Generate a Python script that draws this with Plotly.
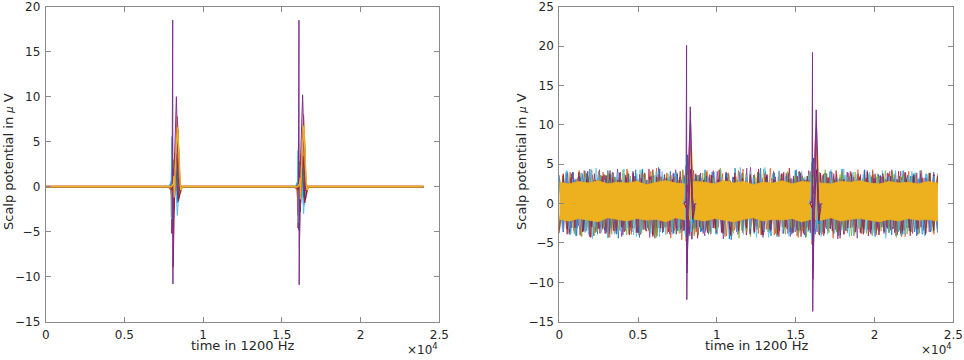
import numpy as np
import plotly.graph_objects as go

# ---------------- data ----------------
t_end = 24000
xtick_vals = [0, 5000, 10000, 15000, 20000, 25000]
xtick_text = ["0", "0.5", "1", "1.5", "2", "2.5"]
ytick_left = [-15, -10, -5, 0, 5, 10, 15, 20]
ytick_right = [-15, -10, -5, 0, 5, 10, 15, 20, 25]

event_offsets = [-100, 30, 66, 80, 130, 190, 250, 300, 360, 420, 500, 600]
left_event_starts = [8000, 16020]
right_event_starts = [8010, 16000]

C_BLUE, C_ORANGE, C_YELLOW, C_PURPLE = "#0072BD", "#D95319", "#EDB120", "#7E2F8E"
C_GREEN, C_LBLUE, C_DRED = "#77AC30", "#4DBEEE", "#A2142F"

# left panel: channel waveforms around the two events
L_blue_a_1 = [0, 0.8, 5.6, -4.6, 1.2, 2.4, 3.2, 2.2, 0.6, -1.8, -0.6, 0]
L_blue_a_2 = [0, 0.6, 5.0, -4.8, 1.0, 2.2, 3.4, 2.4, 0.4, -2.0, -0.6, 0]
L_orange_a_1 = [0, 0.4, 1.8, -2.4, 1.6, 3.4, 6.2, 7.8, 5.8, 1.2, -0.8, 0]
L_orange_a_2 = [0, 0.4, 1.6, -2.2, 1.8, 3.6, 6.4, 8.0, 5.6, 1.0, -0.8, 0]
L_purple_a_1 = [0, 0.2, 18.5, -10.8, 1.0, 3.5, 7.5, 10.0, 6.0, 1.0, -0.5, 0]
L_purple_a_2 = [0, 0.2, 18.5, -10.9, 1.2, 3.8, 7.6, 10.2, 6.2, 1.2, -0.5, 0]
L_green_a_1 = [0, 0.5, 3.0, -2.0, 0.8, 2.0, 3.6, 2.6, 1.0, -0.8, -0.3, 0]
L_green_a_2 = [0, 0.4, 2.8, -2.2, 0.8, 2.2, 3.4, 2.8, 1.2, -0.6, -0.3, 0]
L_lblue_a_1 = [0, 0.6, 4.2, -3.6, 0.4, 1.4, 2.2, 1.2, -1.2, -3.2, -1.0, 0]
L_lblue_a_2 = [0, 0.6, 4.0, -4.0, 0.2, 1.6, 2.4, 1.0, -1.4, -3.0, -0.8, 0]
L_dred_a_1 = [0, -0.4, 2.0, -8.9, -2.4, 0.8, 2.6, 3.6, 2.4, -1.6, -0.8, 0]
L_dred_a_2 = [0, -0.4, 1.8, -6.7, -2.2, 0.6, 2.4, 3.4, 2.2, -1.8, -0.8, 0]
L_blue_b_1 = [0, 0.3, 2.0, -2.6, -0.6, 1.0, 1.8, 1.2, -0.4, -1.2, -0.3, 0]
L_blue_b_2 = [0, 0.3, 2.2, -2.8, -0.8, 1.2, 2.0, 1.0, -0.6, -1.4, -0.3, 0]
L_orange_b_1 = [0, -0.3, -1.0, -3.4, -1.8, 0.6, 2.4, 3.8, 2.2, -0.5, -0.2, 0]
L_orange_b_2 = [0, -0.3, -1.2, -3.2, -1.6, 0.8, 2.6, 3.6, 2.0, -0.6, -0.2, 0]
L_purple_b_1 = [0, 0.1, 1.4, -1.6, 0.6, 2.2, 4.6, 6.4, 4.0, 0.6, -0.4, 0]
L_purple_b_2 = [0, 0.1, 1.2, -1.8, 0.8, 2.4, 4.8, 6.2, 3.8, 0.4, -0.4, 0]
L_green_b_1 = [0, -0.2, -0.8, -1.4, -0.6, 0.4, 1.2, 2.0, 0.8, -0.4, -0.2, 0]
L_green_b_2 = [0, -0.2, -0.6, -1.6, -0.4, 0.6, 1.4, 1.8, 0.6, -0.6, -0.2, 0]
L_dred_b_1 = [0, 0.2, 0.6, -5.2, -1.6, -0.4, 0.8, 1.6, 0.6, -1.0, -0.4, 0]
L_dred_b_2 = [0, 0.2, 0.4, -4.6, -1.4, -0.2, 1.0, 1.4, 0.4, -1.2, -0.4, 0]
L_yellow_b_1 = [0, 0.2, 0.8, -0.6, 1.4, 2.8, 4.0, 5.0, 3.2, 0.8, -0.3, 0]
L_yellow_b_2 = [0, 0.2, 0.6, -0.8, 1.6, 3.0, 4.2, 4.8, 3.0, 0.6, -0.3, 0]
L_yellow_a_1 = [0, 0.3, 1.2, -1.2, 2.2, 3.8, 5.2, 6.6, 4.4, 1.5, -0.4, 0]
L_yellow_a_2 = [0, 0.3, 1.0, -1.4, 2.4, 4.0, 5.4, 6.8, 4.2, 1.2, -0.4, 0]
# per-channel latency (samples) of the left-panel waveforms
left_latency = [70, -50, 90, 30, -70, 110, -30, 60, 40, -60, 15, 0, 80]

# right panel: event waveforms
R_blue_1 = [0, 1.0, 6.2, -5.8, 1.2, 3.0, 4.2, 3.2, 1.0, -2.4, -1.0, 0]
R_blue_2 = [0, 1.0, 5.8, -6.2, 1.0, 3.2, 4.4, 3.0, 0.8, -2.6, -1.0, 0]
R_orange_1 = [0, 0.4, 2.5, -4.8, 0.5, 3.5, 7.0, 8.4, 6.0, 2.0, -1.2, 0]
R_orange_2 = [0, 0.4, 2.2, -5.2, 0.6, 3.8, 7.4, 8.8, 6.2, 1.6, -1.2, 0]
R_green_1 = [0, 0.5, 3.6, -2.8, 0.6, 2.4, 4.2, 3.0, 1.2, -1.2, -0.5, 0]
R_green_2 = [0, 0.5, 3.4, -3.0, 0.8, 2.6, 4.0, 3.2, 1.0, -1.4, -0.5, 0]
R_lblue_1 = [0, 0.8, 4.8, -4.2, 0.4, 1.8, 2.8, 1.6, -1.2, -3.6, -1.2, 0]
R_lblue_2 = [0, 0.8, 5.2, -4.6, 0.2, 1.6, 3.0, 1.4, -1.4, -3.4, -1.2, 0]
R_dred_1 = [0, -0.6, 2.4, -7.6, -2.8, 1.0, 3.2, 4.4, 2.6, -2.0, -1.0, 0]
R_dred_2 = [0, -0.6, 2.2, -8.2, -3.0, 0.8, 3.4, 4.2, 2.4, -2.2, -1.0, 0]
R_yellow_1 = [0, 0.3, 1.4, -1.6, 2.6, 4.4, 6.0, 7.4, 5.0, 1.8, -0.6, 0]
R_yellow_2 = [0, 0.3, 1.2, -1.8, 2.8, 4.6, 6.2, 7.2, 4.8, 1.6, -0.6, 0]
R_purple_b_1 = [0, 0.2, 1.8, -8.8, -3.0, 2.6, 6.8, 10.6, 5.4, 0.8, -0.6, 0]
R_purple_b_2 = [0, 0.2, 1.6, -9.6, -3.4, 2.4, 7.0, 10.2, 5.2, 0.6, -0.6, 0]
R_purple_a_1 = [0, 0.4, 20.1, -12.2, -1.5, 4.5, 9.5, 12.3, 7.5, 1.5, -1.0, 0]
R_purple_a_2 = [0, 0.4, 19.2, -13.7, -1.8, 4.2, 9.0, 11.9, 7.2, 1.2, -1.0, 0]
right_latency = [50, -40, 80, -60, 25, 70, 15, 0]

# right panel: background activity, upper / lower excursions per channel
noise_blue_up = [3.4, 4.1, 3.0, 3.8, 4.4, 3.2, 3.6, 4.0, 2.9, 3.7, 4.3, 3.1, 3.5, 4.6, 3.3, 3.9, 3.0, 4.2, 3.6, 3.2, 4.0, 3.4, 3.8, 4.5, 3.1, 3.7, 3.3, 4.1, 3.6, 3.0, 3.9, 4.3, 3.2, 3.5, 4.0, 3.8, 3.1, 4.4, 3.4, 3.7, 3.0, 4.1, 3.6, 3.3, 3.9, 4.2, 3.5, 3.1, 3.8, 4.0]
noise_blue_lo = [-3.2, -3.8, -2.8, -3.5, -4.1, -3.0, -3.4, -3.9, -2.7, -3.6, -4.3, -3.1, -3.3, -3.7, -2.9, -3.5, -4.0, -3.2, -3.6, -2.8, -3.9, -3.4, -4.6, -3.0, -3.5, -3.8, -3.1, -3.3, -4.2, -2.9, -3.7, -3.4, -3.0, -3.9, -3.6, -3.2, -4.1, -3.5, -2.8, -3.8, -3.3, -3.7, -3.0, -4.0, -3.4, -3.1, -3.6, -3.9, -3.2, -3.5]
noise_orange_up = [3.8, 3.1, 4.2, 3.5, 2.9, 4.0, 3.6, 3.3, 4.4, 3.0, 3.7, 4.1, 3.2, 3.9, 3.4, 4.3, 3.1, 3.6, 4.0, 3.3, 3.8, 2.9, 4.2, 3.5, 3.7, 3.2, 4.5, 3.4, 3.9, 3.0, 3.6, 4.1, 3.3, 3.8, 3.1, 4.0, 3.5, 4.3, 3.2, 3.7, 3.4, 4.1, 3.0, 3.9, 3.6, 4.2, 3.3, 3.8]
noise_orange_lo = [-3.5, -2.9, -3.9, -3.3, -4.2, -3.0, -3.6, -3.8, -2.8, -3.4, -4.0, -3.1, -3.7, -3.3, -4.4, -3.0, -3.5, -3.9, -3.2, -3.6, -2.9, -4.1, -3.4, -3.7, -3.1, -3.8, -3.3, -4.0, -3.0, -3.6, -4.3, -3.2, -3.5, -3.9, -2.8, -3.7, -3.4, -4.1, -3.1, -3.6, -3.3, -3.9, -3.0, -4.2, -3.5, -3.2, -3.8, -3.4]
noise_purple_up = [3.3, 3.9, 3.1, 4.2, 3.6, 3.0, 3.8, 4.4, 3.2, 3.5, 4.0, 3.4, 3.7, 3.1, 4.3, 3.6, 3.0, 3.9, 3.3, 4.1, 3.5, 3.2, 3.8, 4.6, 3.1, 3.7, 3.4, 4.0, 3.0, 3.6, 4.2, 3.3, 3.9, 3.5, 3.1, 4.1, 3.7, 3.2, 3.8, 3.4, 4.3, 3.0, 3.6, 3.9, 3.3, 3.7]
noise_purple_lo = [-3.6, -3.1, -4.0, -3.4, -2.9, -3.8, -3.3, -4.2, -3.0, -3.7, -3.5, -4.4, -3.2, -3.6, -3.0, -3.9, -3.4, -4.1, -3.1, -3.7, -3.3, -3.9, -2.9, -3.6, -4.3, -3.2, -3.5, -3.8, -3.0, -4.0, -3.4, -3.7, -3.1, -4.5, -3.3, -3.6, -2.9, -3.9, -3.5, -3.2, -4.1, -3.4, -3.8, -3.0, -3.6, -3.3]
noise_green_up = [3.5, 3.0, 3.9, 3.3, 4.1, 3.6, 3.1, 3.8, 3.4, 4.3, 3.0, 3.7, 3.2, 4.0, 3.5, 3.1, 3.9, 3.3, 4.2, 3.6, 3.0, 3.8, 3.4, 4.4, 3.2, 3.7, 3.1, 4.0, 3.5, 3.3, 3.9, 3.0, 4.1, 3.6, 3.2, 3.8, 3.4, 4.2, 3.1, 3.7, 3.5, 3.0, 3.9, 3.4]
noise_green_lo = [-3.3, -3.8, -3.0, -3.6, -4.1, -3.2, -3.5, -2.9, -3.9, -3.4, -3.1, -4.3, -3.6, -3.0, -3.7, -3.3, -4.0, -3.2, -3.5, -2.8, -3.8, -3.4, -4.2, -3.1, -3.6, -3.3, -3.9, -3.0, -3.5, -4.4, -3.2, -3.7, -3.4, -3.0, -3.8, -3.3, -4.1, -3.5, -3.1, -3.6, -3.9, -3.2, -3.4, -3.7]
noise_lblue_up = [3.6, 4.2, 3.2, 3.9, 3.4, 4.5, 3.1, 3.7, 4.0, 3.3, 3.8, 4.3, 3.0, 3.6, 4.1, 3.4, 3.9, 3.2, 4.4, 3.5, 3.0, 3.8, 4.2, 3.3, 3.7, 3.1, 4.0, 3.6, 4.6, 3.2, 3.9, 3.4, 3.0, 4.1, 3.7, 3.3, 3.8, 4.3, 3.1, 3.6, 4.0, 3.4, 3.9, 3.2, 4.2, 3.5, 3.0, 3.8, 4.1, 3.3, 3.7, 3.5]
noise_lblue_lo = [-3.4, -4.0, -3.1, -3.7, -4.5, -3.2, -3.6, -3.9, -3.0, -3.5, -4.2, -3.3, -3.8, -3.1, -4.0, -3.4, -3.7, -4.7, -3.2, -3.6, -3.0, -3.9, -3.5, -4.1, -3.3, -3.7, -3.1, -3.8, -4.3, -3.4, -3.0, -3.6, -3.9, -3.2, -4.0, -3.5, -3.1, -3.8, -3.4, -4.2, -3.0, -3.7, -3.3, -3.9, -3.6, -3.2, -4.1, -3.5, -3.0, -3.8, -3.4, -3.6]
noise_dred_up = [3.2, 3.8, 3.5, 4.1, 3.0, 3.7, 3.3, 4.0, 3.6, 3.1, 3.9, 4.3, 3.4, 3.0, 3.8, 3.5, 4.2, 3.2, 3.7, 3.1, 4.0, 3.4, 3.9, 3.3, 4.4, 3.6, 3.0, 3.8, 3.2, 4.1, 3.5, 3.1, 3.7, 4.0, 3.3, 3.9, 3.0, 4.2, 3.6, 3.4, 3.8, 3.1, 4.0, 3.5, 3.2, 3.7, 3.4]
noise_dred_lo = [-3.7, -3.2, -4.0, -3.5, -3.0, -3.8, -4.3, -3.3, -3.6, -3.1, -3.9, -3.4, -4.1, -3.0, -3.7, -3.2, -3.8, -4.4, -3.5, -3.1, -3.6, -3.9, -3.3, -4.0, -3.0, -3.7, -3.4, -4.2, -3.2, -3.6, -3.8, -3.1, -4.0, -3.5, -3.3, -3.9, -3.0, -3.7, -4.1, -3.4, -3.6, -3.2, -3.8, -3.1, -3.5, -4.0, -3.3]
noise_blue2_up = [3.1, 3.7, 4.0, 3.3, 3.9, 2.9, 3.6, 4.2, 3.4, 3.0, 3.8, 3.5, 4.4, 3.2, 3.7, 3.0, 4.1, 3.6, 3.3, 3.9, 3.1, 4.3, 3.5, 3.0, 3.8, 3.4, 4.0, 3.2, 3.6, 4.5, 3.3, 3.9, 3.1, 3.7, 4.2, 3.4, 3.0, 3.8, 3.5, 4.1, 3.2, 3.6, 3.9, 3.0, 4.3, 3.4, 3.7, 3.1, 4.0, 3.5, 3.3, 3.8, 4.2, 3.2, 3.6]
noise_blue2_lo = [-3.0, -3.6, -4.1, -3.3, -2.8, -3.9, -3.4, -3.1, -4.4, -3.5, -3.0, -3.7, -3.2, -4.0, -3.6, -2.9, -3.8, -3.3, -4.2, -3.1, -3.5, -3.9, -3.0, -3.7, -4.5, -3.2, -3.4, -3.8, -2.9, -3.6, -4.1, -3.3, -3.0, -3.9, -3.5, -4.3, -3.1, -3.7, -3.2, -3.8, -4.0, -3.4, -2.9, -3.6, -3.3, -4.2, -3.0, -3.7, -3.5, -3.9, -3.1, -4.1, -3.4, -3.6, -3.2]
noise_orange2_up = [3.5, 4.0, 3.2, 3.7, 4.3, 3.0, 3.6, 3.9, 3.3, 4.1, 3.1, 3.8, 3.4, 4.5, 3.2, 3.6, 3.0, 4.0, 3.7, 3.3, 4.2, 3.5, 3.1, 3.9, 3.4, 4.4, 3.0, 3.6, 3.8, 3.2, 4.1, 3.5, 3.3, 3.9, 3.0, 4.2, 3.6, 3.4, 3.7, 3.1, 4.0, 3.8, 3.2, 4.3, 3.5, 3.0, 3.7, 3.3, 4.1, 3.6, 3.2, 3.9, 3.4]
noise_orange2_lo = [-3.8, -3.2, -3.5, -4.1, -3.0, -3.7, -3.3, -4.3, -3.1, -3.6, -3.9, -2.9, -3.5, -4.0, -3.2, -3.8, -3.4, -4.6, -3.0, -3.6, -3.3, -3.9, -3.1, -4.2, -3.5, -3.0, -3.7, -3.4, -4.0, -3.2, -3.8, -2.9, -3.6, -4.1, -3.3, -3.5, -3.9, -3.0, -4.4, -3.4, -3.7, -3.1, -3.8, -3.2, -4.0, -3.5, -3.0, -3.6, -4.2, -3.3, -3.7, -3.1, -3.9]
noise_purple2_up = [3.6, 3.2, 4.0, 3.4, 3.8, 3.0, 4.3, 3.5, 3.1, 3.9, 3.3, 4.1, 3.7, 3.0, 3.6, 4.4, 3.2, 3.8, 3.4, 4.0, 3.1, 3.7, 3.5, 4.2, 3.0, 3.9, 3.3, 3.6, 4.5, 3.2, 3.8, 3.4, 4.1, 3.0, 3.7, 3.5, 3.9, 3.1, 4.3, 3.6, 3.3, 3.8, 3.0, 4.0, 3.4, 3.7, 4.2, 3.2, 3.5, 3.9, 3.1, 4.1, 3.6, 3.3, 3.8, 3.0, 3.7]
noise_purple2_lo = [-3.3, -3.9, -3.0, -3.6, -4.2, -3.4, -3.1, -3.8, -3.5, -4.0, -2.9, -3.7, -3.3, -4.3, -3.1, -3.6, -3.9, -3.2, -3.5, -4.1, -3.0, -3.8, -3.4, -3.7, -4.5, -3.2, -3.6, -3.0, -3.9, -3.3, -4.0, -3.5, -3.1, -3.8, -4.2, -3.4, -3.0, -3.7, -3.6, -4.1, -3.2, -3.5, -3.9, -3.1, -4.4, -3.3, -3.7, -3.0, -3.8, -3.4, -4.0, -3.2, -3.6, -3.9, -3.1, -3.5, -3.7]
noise_green2_up = [3.2, 3.8, 3.4, 4.1, 3.0, 3.6, 3.9, 3.3, 4.3, 3.5, 3.1, 3.7, 4.0, 3.2, 3.8, 3.4, 4.2, 3.0, 3.6, 3.9, 3.3, 4.5, 3.5, 3.1, 3.7, 3.4, 4.0, 3.2, 3.8, 3.0, 4.1, 3.6, 3.3, 3.9, 3.5, 4.3, 3.1, 3.7, 3.4, 4.0, 3.2, 3.6, 3.8, 3.0, 4.2, 3.5, 3.3, 3.9, 3.1, 3.7, 3.4]
noise_green2_lo = [-3.5, -3.1, -3.8, -4.2, -3.3, -3.6, -3.0, -3.9, -3.4, -4.0, -3.2, -3.7, -3.5, -4.3, -3.0, -3.6, -3.8, -3.3, -4.1, -3.1, -3.7, -3.4, -3.9, -3.0, -4.4, -3.5, -3.2, -3.8, -3.6, -4.0, -3.3, -3.1, -3.7, -4.2, -3.4, -3.9, -3.0, -3.6, -3.5, -4.1, -3.2, -3.8, -3.4, -3.0, -3.7, -4.3, -3.3, -3.6, -3.9, -3.1, -3.5]
noise_lblue2_up = [3.4, 4.0, 3.1, 3.7, 3.3, 4.2, 3.6, 3.0, 3.9, 3.5, 4.4, 3.2, 3.8, 3.4, 3.1, 4.1, 3.6, 3.3, 3.9, 3.0, 4.3, 3.7, 3.2, 3.5, 4.0, 3.4, 3.8, 3.1, 4.6, 3.6, 3.3, 3.9, 3.0, 3.7, 4.2, 3.5, 3.2, 3.8, 3.4, 4.1, 3.0, 3.6, 3.9, 3.3, 4.4, 3.5, 3.1, 3.7, 4.0, 3.2, 3.8, 3.4, 4.2, 3.0, 3.6, 3.9, 3.3, 3.7, 3.5]
noise_lblue2_lo = [-3.6, -3.2, -4.1, -3.4, -3.9, -3.0, -3.7, -4.4, -3.3, -3.5, -3.1, -4.0, -3.8, -3.2, -3.6, -4.2, -3.0, -3.9, -3.4, -3.7, -4.6, -3.1, -3.5, -3.8, -3.3, -4.0, -3.0, -3.6, -3.9, -3.2, -4.3, -3.4, -3.7, -3.1, -3.8, -4.1, -3.5, -3.0, -3.6, -3.3, -4.2, -3.9, -3.2, -3.7, -3.4, -4.0, -3.1, -3.5, -3.8, -3.3, -4.4, -3.0, -3.6, -3.9, -3.2, -3.7, -4.1, -3.4, -3.5]
noise_dred2_up = [3.7, 3.3, 4.0, 3.1, 3.8, 3.5, 4.2, 3.0, 3.6, 3.9, 3.2, 4.4, 3.4, 3.7, 3.1, 4.1, 3.5, 3.8, 3.0, 3.6, 4.3, 3.3, 3.9, 3.2, 3.7, 4.0, 3.4, 3.1, 3.8, 4.5, 3.5, 3.0, 3.6, 3.9, 3.3, 4.2, 3.1, 3.7, 3.4, 4.0, 3.2, 3.8, 3.5, 4.1, 3.0, 3.6, 3.3, 3.9, 3.5]
noise_dred2_lo = [-3.4, -3.9, -3.1, -3.6, -4.3, -3.2, -3.8, -3.5, -3.0, -4.0, -3.7, -3.3, -4.2, -3.1, -3.6, -3.9, -3.4, -4.5, -3.0, -3.7, -3.2, -3.8, -4.1, -3.5, -3.1, -3.6, -4.0, -3.3, -3.9, -3.0, -3.7, -4.2, -3.4, -3.2, -3.8, -3.5, -4.4, -3.1, -3.6, -3.9, -3.3, -4.0, -3.0, -3.7, -3.5, -4.1, -3.2, -3.8, -3.4]
core_up = [2.7, 2.5, 2.8, 2.6, 2.9, 2.5, 2.7, 2.6, 2.8, 2.4, 2.7, 2.9, 2.6, 2.5, 2.8, 2.7, 2.5, 2.9, 2.6, 2.8, 2.4, 2.7, 2.6, 2.9, 2.5, 2.8, 2.7, 2.6, 2.5, 2.8, 2.7, 2.9, 2.6, 2.5, 2.8, 2.6, 2.7, 2.5, 2.8, 2.6]
core_lo = [-2.0, -2.2, -1.9, -2.1, -2.3, -1.8, -2.0, -2.2, -1.9, -2.1, -2.0, -2.3, -1.8, -2.1, -2.0, -2.2, -1.9, -2.1, -2.3, -2.0, -1.8, -2.2, -2.0, -2.1, -1.9, -2.3, -2.0, -2.1, -1.8, -2.2, -2.0, -1.9, -2.1, -2.3, -2.0, -2.2, -1.9, -2.1, -2.0, -2.2]

# ---------------- figure ----------------
W, H = 964, 360
def px(x):
    return x / W
def py(y):
    return 1 - y / H

fig = go.Figure()

def event_x(starts, lat):
    xs = [0]
    for s in starts:
        xs += [s + lat + o for o in event_offsets]
    xs.append(t_end)
    return xs

def event_y(v1, v2):
    return [0] + list(v1) + list(v2) + [0]

left_channels = [
    (C_BLUE, L_blue_b_1, L_blue_b_2), (C_ORANGE, L_orange_b_1, L_orange_b_2),
    (C_PURPLE, L_purple_b_1, L_purple_b_2), (C_GREEN, L_green_b_1, L_green_b_2),
    (C_DRED, L_dred_b_1, L_dred_b_2), (C_YELLOW, L_yellow_b_1, L_yellow_b_2),
    (C_BLUE, L_blue_a_1, L_blue_a_2), (C_ORANGE, L_orange_a_1, L_orange_a_2),
    (C_GREEN, L_green_a_1, L_green_a_2), (C_LBLUE, L_lblue_a_1, L_lblue_a_2),
    (C_DRED, L_dred_a_1, L_dred_a_2), (C_PURPLE, L_purple_a_1, L_purple_a_2),
    (C_YELLOW, L_yellow_a_1, L_yellow_a_2),
]
for i, (c, v1, v2) in enumerate(left_channels):
    w = 1.0
    if i == 1:
        w = 2.6
    if i == len(left_channels) - 1:
        w = 1.4
    fig.add_trace(go.Scatter(x=event_x(left_event_starts, left_latency[i]),
                             y=event_y(v1, v2), mode="lines",
                             line=dict(color=c, width=w),
                             xaxis="x", yaxis="y", showlegend=False, hoverinfo="skip"))

# right panel background activity (zig-zag between excursions)
noise_sets = [
    (C_BLUE, noise_blue_up, noise_blue_lo), (C_ORANGE, noise_orange_up, noise_orange_lo),
    (C_PURPLE, noise_purple_up, noise_purple_lo), (C_GREEN, noise_green_up, noise_green_lo),
    (C_LBLUE, noise_lblue_up, noise_lblue_lo), (C_DRED, noise_dred_up, noise_dred_lo),
    (C_BLUE, noise_blue2_up, noise_blue2_lo), (C_ORANGE, noise_orange2_up, noise_orange2_lo),
    (C_PURPLE, noise_purple2_up, noise_purple2_lo), (C_GREEN, noise_green2_up, noise_green2_lo),
    (C_LBLUE, noise_lblue2_up, noise_lblue2_lo), (C_DRED, noise_dred2_up, noise_dred2_lo),
]
for k, (c, up, lo) in enumerate(noise_sets):
    ys = []
    for a, b in zip(up, lo):
        ys += [a, b] if k % 2 == 0 else [b, a]
    xs = np.linspace(0, t_end, len(ys))
    fig.add_trace(go.Scatter(x=xs, y=ys, mode="lines", line=dict(color=c, width=0.7),
                             xaxis="x2", yaxis="y2", showlegend=False, hoverinfo="skip"))

cx = list(np.linspace(0, t_end, len(core_up)))
fig.add_trace(go.Scatter(x=cx + cx[::-1], y=core_up + core_lo[::-1], mode="lines",
                         fill="toself", fillcolor=C_YELLOW, line=dict(color=C_YELLOW, width=0.8),
                         xaxis="x2", yaxis="y2", showlegend=False, hoverinfo="skip"))

right_channels = [
    (C_BLUE, R_blue_1, R_blue_2), (C_ORANGE, R_orange_1, R_orange_2),
    (C_GREEN, R_green_1, R_green_2), (C_LBLUE, R_lblue_1, R_lblue_2),
    (C_DRED, R_dred_1, R_dred_2), (C_YELLOW, R_yellow_1, R_yellow_2),
    (C_PURPLE, R_purple_b_1, R_purple_b_2), (C_PURPLE, R_purple_a_1, R_purple_a_2),
]
for i, (c, v1, v2) in enumerate(right_channels):
    xs, ys = [], []
    for s, v in zip(right_event_starts, (v1, v2)):
        xs += [s + right_latency[i] + o for o in event_offsets] + [None]
        ys += list(v) + [None]
    fig.add_trace(go.Scatter(x=xs, y=ys, mode="lines", line=dict(color=c, width=1),
                             xaxis="x2", yaxis="y2", showlegend=False, hoverinfo="skip"))

FONT = "DejaVu Sans"
TXT = "#262626"
AX = "#8a8a8a"
common_x = dict(range=[0, 25000], tickvals=xtick_vals, ticktext=xtick_text,
                ticks="inside", ticklen=5, tickcolor=AX, showline=True, linecolor=AX,
                linewidth=1, mirror="ticks", showgrid=False, zeroline=False,
                automargin=False, ticklabeloverflow="allow", ticklabelstandoff=2,
                tickfont=dict(family=FONT, size=12, color=TXT))
common_y = dict(ticks="inside", ticklen=5, tickcolor=AX, showline=True, linecolor=AX,
                linewidth=1, mirror="ticks", showgrid=False, zeroline=False,
                automargin=False, ticklabelstandoff=2, ticklabeloverflow="allow",
                tickfont=dict(family=FONT, size=12, color=TXT))

fig.update_layout(
    width=W, height=H, margin=dict(l=0, r=0, t=0, b=0, autoexpand=False),
    paper_bgcolor="white", plot_bgcolor="white",
    font=dict(family=FONT, color=TXT),
    xaxis=dict(domain=[px(45.7), px(439.3)], anchor="y", **common_x),
    yaxis=dict(domain=[py(321.7), py(6.7)], anchor="x", range=[-15, 20],
               tickvals=ytick_left, **common_y),
    xaxis2=dict(domain=[px(559.3), px(953.3)], anchor="y2", **common_x),
    yaxis2=dict(domain=[py(321.7), py(6.7)], anchor="x2", range=[-15, 25],
                tickvals=ytick_right, **common_y),
)

ylab = "Scalp potential in <span style='font-size:10px'><i>μ</i></span> V"
annots = [
    dict(x=px(242.5), y=py(345), text="time in 1200 Hz"),
    dict(x=px(756.3), y=py(345), text="time in 1200 Hz"),
    dict(x=px(9), y=py(162), text=ylab, textangle=-90),
    dict(x=px(522), y=py(162), text=ylab, textangle=-90),
]
for a in annots:
    fig.add_annotation(xref="paper", yref="paper", showarrow=False,
                       font=dict(family=FONT, size=13, color=TXT),
                       xanchor="center", yanchor="middle", **a)
for xr in (439.5, 953.5):
    fig.add_annotation(xref="paper", yref="paper", x=px(xr), y=py(349), showarrow=False,
                       text="×10<sup>4</sup>", xanchor="right", yanchor="middle",
                       font=dict(family=FONT, size=12, color=TXT))

# remove the default 8 px page margin so the figure sits at the window origin
fig.write_html("out.html", config={"displayModeBar": False},
               post_script="document.body.style.margin='0px';")
